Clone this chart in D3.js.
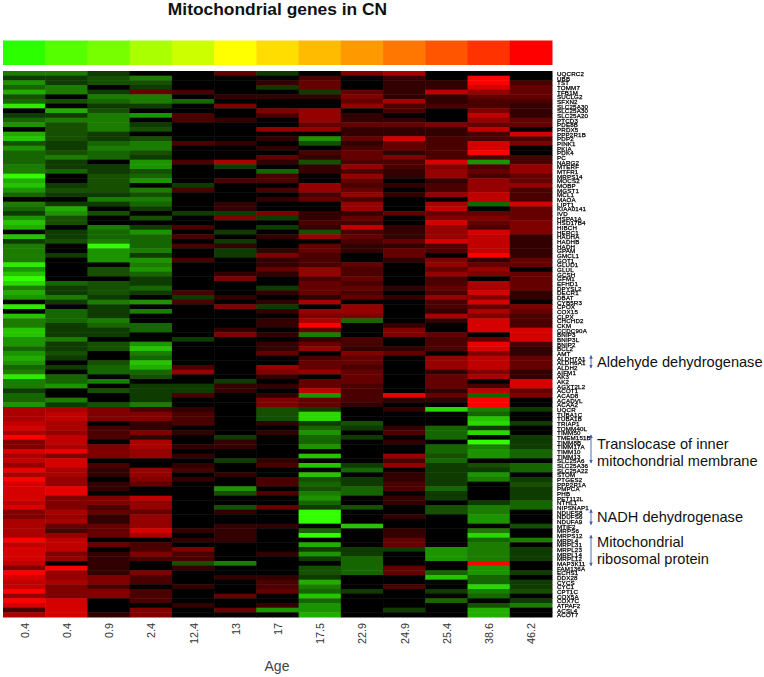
<!DOCTYPE html>
<html><head><meta charset="utf-8">
<script src="https://cdn.jsdelivr.net/npm/d3@7/dist/d3.min.js"></script>
<style>html,body{margin:0;padding:0;background:#fff}svg{display:block}</style></head>
<body><div id="chart"></div>
<script>
const title = "Mitochondrial genes in CN";
const ages = ["0.4","0.4","0.9","2.4","12.4","13","17","17.5","22.9","24.9","25.4","38.6","46.2"];
const ageBar = ["#2bff00","#55ff00","#77ff00","#aaff00","#ccff00","#ffff00","#ffdd00","#ffbb00","#ff9900","#ff7700","#ff5500","#ff3300","#ff0000"];
const genes = ["UQCRC2","UBB","TST","TOMM7","TFB1M","SUCLG2","SFXN2","SLC25A30","SLC25A30","SLC25A20","PTCD3","PDE8B","PRDX5","PPP2R1B","PDP2","PINK1","PKIA","PDK4","PC","NARG2","MTERF","MTFR1","MRPS14","MOCS2","MOBP","MGST1","MCL1","MAOA","LIPT1","KIAA0141","IVD","HSPA1A","HSD17B4","HIBCH","HERC1","HADHA","HADHB","HADH","GPAM","GMCL1","GOT1","GLUD1","GLUL","GCSH","GFM1","EFHD1","DPYSL2","DECR1","DBAT","CYB5R3","CPOX","COX15","CLPX","CHCHD2","CKM","CCDC90A","BNIP3","BNIP3L","BNIP2","BCL2","AMT","ALDH7A1","ALDH6A1","ALDH2","AIFM1","AK3","AK2","AGXT2L2","ACOT1","ACAD8","ACADVL","ACAA2","UQCR","TUBA1C","TUBA1B","TRIAP1","TOMM40L","TIMM50","TMEM151B","TIMM8B","TIMM17A","TIMM10","TIMM13","SLC25A6","SLC25A36","SLC25A22","STOM","PTGES2","PPP2R1A","PMPCA","PHB","PET112L","NTHL1","NIPSNAP1","NDUFS8","NDUFS6","NDUFA9","MTIF2","MRPS6","MRPS12","MRPL4","MRPL31","MRPL23","MRPL14","MRPL12","MAP3K11","FAM136A","ECHS1","DDX28","CYCS","CYC1","CPT1C","COX5A","COX7C","ATPAF2","ACSL4","ACOT7"];

const age0_4a = [-4,-1,-5,-3,-6,-2,-3,-9,0,-1,-3,-5,0,-6,-7,-2,-5,-3,-3,-3,-4,-4,-10,-6,-7,-5,-3,0,-4,-3,-1,-5,-7,-6,0,-7,-1,-4,-4,-4,-4,-9,-5,-7,-10,-8,-4,-6,-5,0,-9,0,-7,-4,-4,-7,-7,-5,-5,-3,-5,-6,-5,-3,-4,-9,-4,-4,-1,-3,-3,-5,6,6,6,7,8,6,10,4,4,8,6,7,5,9,6,10,8,8,8,8,7,8,4,4,6,6,6,6,10,7,8,8,8,7,4,10,8,7,7,10,5,10,8,2,6];
const age0_4b = [-4,-1,-1,-4,-4,0,-2,0,-6,-1,-4,-2,-2,-2,-2,-1,-1,-2,-4,-1,-1,-3,0,0,-1,-2,-1,0,-1,-6,-5,-2,-2,0,-1,-1,-2,0,0,-1,0,0,0,0,0,-3,-1,-1,-4,-1,0,-3,-3,-3,-1,-1,-1,-4,-1,-1,-2,-1,0,-1,0,-3,-3,-5,0,0,-4,-1,6,7,7,6,6,5,7,7,6,9,4,8,8,6,6,5,5,9,9,4,4,4,6,5,6,3,2,5,7,7,7,4,5,0,10,5,5,6,4,4,4,8,8,8,8];
const age0_9 = [-1,-2,-2,0,-1,-4,-3,-1,-2,-4,-4,-4,-4,-1,-1,-3,-4,-3,-3,0,-1,-1,-2,-2,-2,-2,-1,-4,-1,0,-2,0,0,-4,-3,-3,-4,-10,-5,-5,-5,0,-2,-2,0,-2,-2,-2,-1,-4,-1,-1,-1,-4,-3,-1,-1,0,-2,-2,0,0,-2,-3,-3,0,-4,0,-2,0,0,-2,4,4,4,0,2,2,2,0,4,4,4,0,2,1,1,0,1,1,0,4,4,2,3,1,1,3,3,3,0,3,0,1,1,1,1,1,4,4,2,4,4,0,0,0,1];
const age2_4 = [0,-4,-2,-1,3,-4,-4,-1,0,-5,0,-1,-2,0,-2,-4,-4,-2,-1,-5,-5,-2,-3,-5,0,-4,-2,-4,-3,-1,0,-2,0,-1,-5,-3,-3,-3,-4,-1,-5,-4,-5,-3,-1,-1,-3,-1,0,-5,0,-4,0,0,-3,-3,0,0,-5,-7,-4,-3,-7,-6,-3,-2,0,-1,-1,-1,-1,-4,2,4,4,1,1,4,1,6,6,5,5,0,0,5,5,4,3,0,0,7,5,5,3,5,5,5,8,6,0,2,2,4,2,0,0,4,2,2,0,2,2,2,0,4,4];
const age12_4 = [0,0,0,0,2,0,-3,0,0,2,2,0,0,0,0,2,0,0,0,2,0,0,0,0,-1,2,0,0,0,0,-1,0,0,2,0,2,0,2,0,0,2,0,0,0,0,0,0,2,-1,2,0,0,0,0,0,0,0,-1,0,0,0,0,0,2,5,0,0,-1,-1,2,0,0,1,2,2,2,0,1,0,0,1,0,1,0,1,2,0,1,0,0,0,0,0,0,0,0,0,0,1,0,1,0,4,2,2,-2,1,0,0,0,1,0,0,0,1,0,0];
const age13 = [3,0,0,0,0,1,0,4,0,0,1,0,0,0,0,1,0,0,0,6,-1,0,0,2,0,0,0,0,1,1,-1,4,0,0,-1,0,-1,1,-1,-1,0,0,0,1,4,0,0,0,1,0,4,0,0,0,0,1,4,0,0,0,0,0,0,0,0,0,-1,1,1,0,0,0,0,0,0,0,0,0,-1,1,1,0,0,-1,0,0,1,0,0,-5,-2,0,0,-2,1,0,0,1,1,1,1,0,0,0,0,-4,0,0,1,0,0,0,3,0,0,3,0];
const age17 = [-1,0,1,-1,0,1,0,0,4,2,0,0,5,0,1,0,1,0,3,1,0,-3,2,2,0,2,0,1,0,0,4,-1,0,-1,0,1,0,0,1,4,1,1,3,1,0,0,-1,1,0,1,-1,1,0,1,1,0,1,0,1,1,3,0,0,5,4,1,0,1,0,1,4,4,-2,-2,-2,1,0,1,0,0,0,0,0,1,2,0,0,2,2,0,2,0,0,3,0,0,0,1,0,0,0,0,0,1,0,0,0,0,1,2,2,3,0,0,1,-5,0];
const age17_5 = [0,2,3,3,-1,1,0,0,5,5,5,3,5,0,-5,-2,0,2,1,-2,1,1,0,0,5,5,2,3,0,0,1,1,2,1,-2,5,0,3,3,2,2,2,5,5,2,3,3,3,1,6,0,5,4,6,10,3,-4,1,3,5,0,2,3,3,5,0,3,3,7,-5,3,3,-1,-8,-8,-1,-3,-5,-3,-3,-5,0,-7,0,-7,0,-7,-2,-3,-2,-4,-5,-3,-1,-10,-10,-10,0,-3,-10,0,-6,-1,-5,-1,0,-2,-2,-1,-6,-4,-3,-7,-3,-5,-5,-6];
const age22_9 = [4,0,0,0,3,4,3,5,0,1,1,3,1,1,3,1,2,3,3,2,5,2,5,3,2,3,5,2,5,5,1,3,2,7,2,3,2,1,1,0,0,3,2,2,3,2,3,2,3,0,5,5,4,-3,0,0,0,2,2,1,4,3,3,2,3,3,3,2,2,2,2,1,0,0,0,-2,-1,0,-1,0,0,0,0,0,-1,-3,0,-1,-1,-3,-3,0,0,-2,0,0,0,-7,0,0,0,0,-1,-1,-3,-3,-3,-3,0,0,0,-1,0,0,0,0,0];
const age24_9 = [6,1,1,1,1,1,6,2,2,0,1,3,1,1,8,3,3,1,4,2,2,1,1,0,1,0,1,0,0,0,3,0,0,1,1,1,3,1,3,3,1,0,0,0,0,0,1,0,1,0,0,0,0,0,1,4,4,0,0,1,3,0,0,0,0,0,0,0,0,9,1,0,1,0,0,0,1,2,0,1,0,0,5,2,5,0,1,1,2,2,0,1,1,0,0,1,0,0,1,1,3,3,-1,0,0,0,3,3,0,0,2,0,0,0,0,-1,0];
const age25_4 = [0,0,1,1,7,1,1,2,0,0,0,4,1,1,2,2,2,2,2,8,4,5,5,1,2,2,5,0,6,7,3,4,8,5,5,5,8,2,2,0,4,5,3,5,2,2,3,2,5,2,2,1,6,1,0,0,3,2,2,2,0,5,5,5,1,3,3,3,1,3,1,0,-8,0,0,0,-3,-3,-3,0,-3,-3,-2,-3,-1,-1,-1,-1,-1,-3,-1,-1,0,-2,-2,0,0,0,0,0,0,0,-5,-5,-5,0,0,-3,-7,0,0,-1,0,-3,0,0,0];
const age38_6 = [0,10,10,8,5,3,2,2,4,7,5,3,7,2,2,8,8,10,2,-5,2,3,2,5,5,5,7,7,-3,0,3,4,3,2,8,7,7,7,7,10,1,3,5,4,0,6,6,8,4,8,3,6,4,8,8,8,0,3,9,8,4,7,7,7,4,6,0,2,7,-3,10,10,-4,-3,-7,-8,-1,-8,0,-10,-4,-5,-5,0,-2,-1,-5,-4,0,0,0,0,-1,-4,-4,-5,-5,0,-4,-8,-3,-4,-4,-4,-4,10,-5,-5,-3,-3,-8,-4,-3,0,-2,-6,-6];
const age46_2 = [0,0,2,3,3,3,2,1,1,1,3,3,0,8,2,4,0,0,2,2,5,5,3,3,5,2,2,2,8,3,3,3,4,4,4,1,1,1,1,1,3,3,0,3,3,3,3,1,1,0,4,3,2,2,2,8,8,8,2,1,1,3,3,3,1,1,8,8,3,4,0,0,-1,0,0,-1,0,0,-1,-1,-1,-3,-3,0,-3,-3,0,-1,-2,-1,-1,-1,-3,-3,0,0,0,-2,0,0,-4,0,-1,-1,-1,0,0,-1,0,-1,-1,-2,0,-1,-4,0,0];
const columns = [age0_4a,age0_4b,age0_9,age2_4,age12_4,age13,age17,age17_5,age22_9,age24_9,age25_4,age38_6,age46_2];
const annotations = [
  {lines:["Aldehyde dehydrogenase"], from:61, to:63.6, shift:0},
  {lines:["Translocase of inner","mitochondrial membrane"], from:78, to:84, shift:3.5},
  {lines:["NADH dehydrogenase"], from:94, to:97.2, shift:0},
  {lines:["Mitochondrial","ribosomal protein"], from:99.5, to:106, shift:0}
];

columns.forEach((c,i)=>{ if(c.length!==genes.length) console.error("len",i,c.length); });

const W=764,H=677;
const svg=d3.select("#chart").append("svg").attr("width",W).attr("height",H);
const defs=svg.append("defs");
defs.append("filter").attr("id","soft").attr("x","-2%").attr("y","-2%").attr("width","104%").attr("height","104%")
  .append("feGaussianBlur").attr("stdDeviation",0.45);
defs.append("marker").attr("id","ah").attr("viewBox","0 0 6 6").attr("refX",5).attr("refY",3)
  .attr("markerUnits","userSpaceOnUse").attr("markerWidth",4).attr("markerHeight",3.6).attr("orient","auto-start-reverse")
  .append("path").attr("d","M0,0L6,3L0,6Z").attr("fill","#3a5fc0");

const x=d3.scaleBand().domain(d3.range(ages.length)).range([3,552]);
const y=d3.scaleBand().domain(d3.range(genes.length)).range([71,617]);
const color=d3.scaleLinear()
  .domain([-10,-7,-4,-1,0,1,4,10])
  .range(["#33ff00","#27c400","#1b7c00","#0e3a00","#000000","#300000","#800000","#ff0000"]);

svg.append("text").attr("x",277.5).attr("y",14.5).attr("text-anchor","middle")
  .attr("font-family","Liberation Sans").attr("font-weight","bold").attr("font-size",17.4).attr("fill","#111").text(title);

svg.append("g").selectAll("rect").data(ageBar).join("rect")
  .attr("x",(d,i)=>x(i)).attr("width",x.bandwidth()+0.5).attr("y",40.5).attr("height",24.5).attr("fill",d=>d);

const gc=svg.append("g").attr("filter","url(#soft)");
columns.forEach((col,ci)=>{
  gc.append("g").selectAll("rect").data(col).join("rect")
    .attr("x",x(ci)).attr("width",x.bandwidth()+0.5)
    .attr("y",(d,i)=>y(i)).attr("height",y.bandwidth()+0.5)
    .attr("fill",d=>color(d));
});

svg.append("g").attr("filter","url(#soft)").selectAll("text").data(genes).join("text")
  .attr("x",557).attr("y",(d,i)=>y(i)+y.bandwidth()/2+2.6)
  .attr("font-family","Liberation Sans").attr("font-size",6.2).attr("letter-spacing",0.15).attr("fill","#000")
  .attr("stroke","#000").attr("stroke-width",0.25)
  .text(d=>d);

svg.append("g").selectAll("text").data(ages).join("text")
  .attr("transform",(d,i)=>`translate(${x(i)+x.bandwidth()/2+4.5},623) rotate(-90)`)
  .attr("text-anchor","end").attr("font-family","Liberation Sans").attr("font-size",10.8).attr("fill","#333")
  .text(d=>d);

svg.append("text").attr("x",277).attr("y",671).attr("text-anchor","middle")
  .attr("font-family","Liberation Sans").attr("font-size",14).attr("fill","#444").text("Age");

const ann=svg.append("g").selectAll("g").data(annotations).join("g");
ann.append("line").attr("x1",591).attr("x2",591)
  .attr("y1",d=>y(0)+d.from*y.step()).attr("y2",d=>y(0)+d.to*y.step())
  .attr("stroke","#3a5fc0").attr("stroke-width",0.9)
  .attr("marker-start","url(#ah)").attr("marker-end","url(#ah)");
ann.each(function(d){
  const mid=y(0)+(d.from+d.to)/2*y.step()+d.shift;
  const top=mid-(d.lines.length-1)*8.8;
  d3.select(this).selectAll("text").data(d.lines).join("text")
    .attr("x",597).attr("y",(l,i)=>top+i*17.6+5)
    .attr("font-family","Liberation Sans").attr("font-size",14.6).attr("fill","#111").text(l=>l);
});
</script></body></html>
